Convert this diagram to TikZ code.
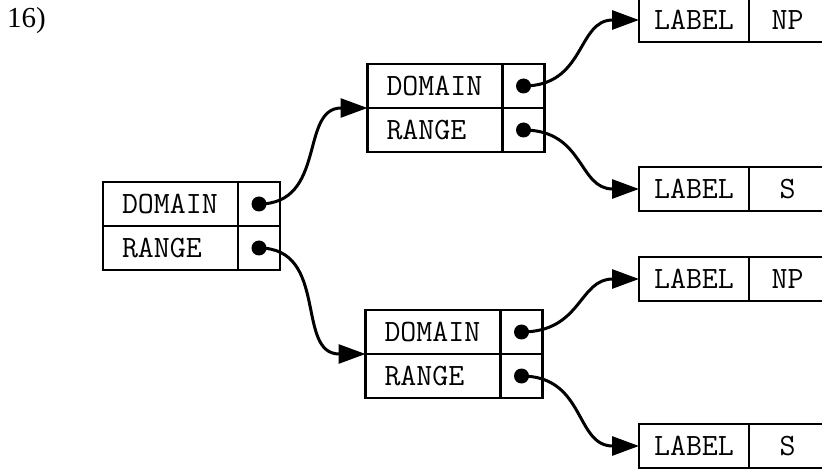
\documentclass[tikz,border=0pt]{standalone}
\usepackage{fontspec}
\setmainfont{Liberation Serif}
\usetikzlibrary{positioning, arrows.meta}
\tikzstyle{field} = [
    rectangle,
    draw=black,
    line width=2.4pt,
    outer sep=0pt,
    minimum height=44pt,
    inner xsep=19pt,
    text width=97pt,
    align=left,
    font=\fontsize{31}{31}\selectfont\ttfamily
]
\tikzstyle{pointer} = [
    rectangle,
    draw=black,
    line width=2.4pt,
    outer sep=0pt,
    minimum width=42pt,
    minimum height=44pt
]
\tikzstyle{tag} = [
    rectangle,
    draw=black,
    line width=2.4pt,
    outer sep=0pt,
    minimum width=110pt,
    minimum height=44pt,
    font=\fontsize{31}{31}\selectfont\ttfamily
]
\tikzstyle{value} = [tag, minimum width=77pt]
\tikzstyle{arrow} = [line width=3pt, -{Triangle[length=27pt,width=19pt]}]

\begin{document}
\begin{tikzpicture}[x=1pt, y=-1pt]
\useasboundingbox (0,0) rectangle (822,470);

\node (num) [anchor=base west, inner sep=0pt] at (7,28)
{\fontsize{29}{29}\selectfont 16)};

% left record
\node (dom1) [field] at (170.5,204) {DOMAIN};
\node (dom1p) [pointer, right=0pt of dom1] {};
\node (ran1) [field, below=0pt of dom1] {RANGE};
\node (ran1p) [pointer, right=0pt of ran1] {};

% upper record
\node (dom2) [field] at (435,86) {DOMAIN};
\node (dom2p) [pointer, right=0pt of dom2] {};
\node (ran2) [field, below=0pt of dom2] {RANGE};
\node (ran2p) [pointer, right=0pt of ran2] {};

% lower record
\node (dom3) [field] at (433,332) {DOMAIN};
\node (dom3p) [pointer, right=0pt of dom3] {};
\node (ran3) [field, below=0pt of dom3] {RANGE};
\node (ran3p) [pointer, right=0pt of ran3] {};

% labels
\node (lab1) [tag] at (694,20) {LABEL};
\node (val1) [value, right=0pt of lab1] {NP};
\node (lab2) [tag] at (694,189) {LABEL};
\node (val2) [value, right=0pt of lab2] {S};
\node (lab3) [tag] at (694,279) {LABEL};
\node (val3) [value, right=0pt of lab3] {NP};
\node (lab4) [tag] at (694,446) {LABEL};
\node (val4) [value, right=0pt of lab4] {S};

\foreach \p in {dom1p, ran1p, dom2p, ran2p, dom3p, ran3p}
    \fill (\p.center) circle (7.5pt);

\draw [arrow] (dom1p.center) to[out=0, in=180, looseness=1.2] (dom2.south west);
\draw [arrow] (ran1p.center) to[out=0, in=180, looseness=1.2] (dom3.south west);
\draw [arrow] (dom2p.center) to[out=0, in=180, looseness=1.2] (lab1.west);
\draw [arrow] (ran2p.center) to[out=0, in=180, looseness=1.2] (lab2.west);
\draw [arrow] (dom3p.center) to[out=0, in=180, looseness=1.2] (lab3.west);
\draw [arrow] (ran3p.center) to[out=0, in=180, looseness=1.2] (lab4.west);

\end{tikzpicture}
\end{document}
